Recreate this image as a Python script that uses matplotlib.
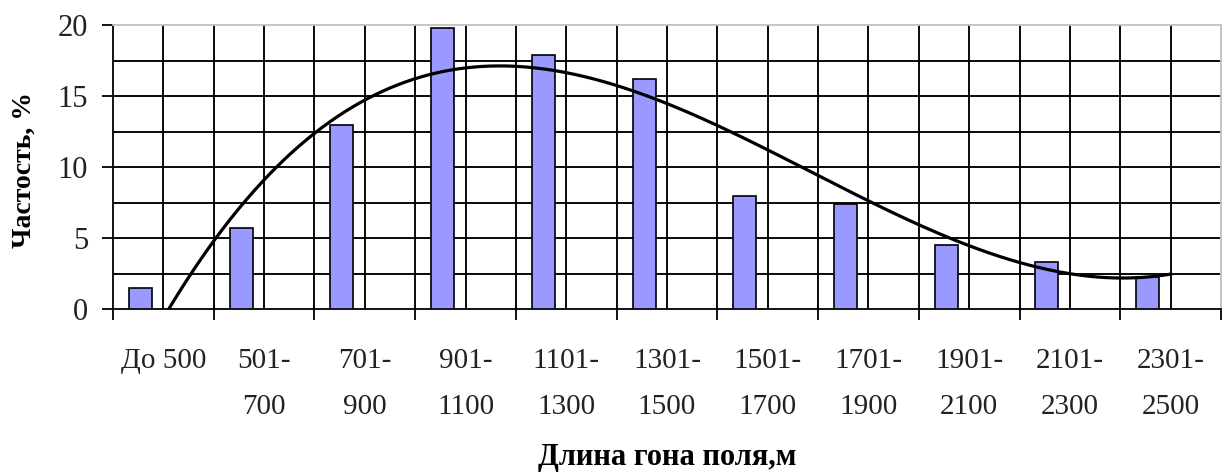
import numpy as np
import matplotlib
matplotlib.use("Agg")
import matplotlib.pyplot as plt

# Length classes of field runs (m) and their relative frequency (%)
categories = ["До 500", "501-\n700", "701-\n900", "901-\n1100", "1101-\n1300",
              "1301-\n1500", "1501-\n1700", "1701-\n1900", "1901-\n2100",
              "2101-\n2300", "2301-\n2500"]
frequency = [1.5, 5.7, 13.0, 19.8, 17.9, 16.2, 8.0, 7.4, 4.5, 3.3, 2.3]
y_ticks = [0, 5, 10, 15, 20]

plt.rcParams['font.family'] = ['Liberation Serif', 'DejaVu Serif']

W, H = 1224, 475
fig = plt.figure(figsize=(W / 100, H / 100), dpi=100)
fig.patch.set_facecolor('white')
left, right, top, bottom = 113, 1221, 25, 309.3
ax = fig.add_axes([left / W, 1 - bottom / H, (right - left) / W, (bottom - top) / H])

n = len(categories)
centers = np.arange(n) + 0.5

# grid: horizontal every 2.5 %, vertical every half class
for yv in np.arange(2.5, 20, 2.5):
    ax.axhline(yv, color='black', lw=1.35, zorder=1)
for xv in np.arange(0.5, n, 0.5):
    ax.axvline(xv, color='black', lw=1.35, zorder=1)

# columns (first slot of a three-slot cluster)
bar_w = 0.228
ax.bar(centers - bar_w, frequency, width=bar_w, color='#9999ff',
       edgecolor='black', linewidth=1.2, zorder=3)

# third-order polynomial trend over class index 1..n
k = np.arange(1, n + 1)
coef = np.polyfit(k, frequency, 3)
kk = np.linspace(1, n, 400)
ax.plot(kk - 0.5, np.polyval(coef, kk), color='black', lw=2.3, zorder=4)

ax.set_xlim(0, n)
ax.set_ylim(0, 20)
ax.set_yticks(y_ticks)
ax.set_yticklabels([str(v) for v in y_ticks])
ax.set_xticks(np.arange(n + 1))
ax.set_xticklabels([])
ax.set_xticks(centers, minor=True)
ax.set_xticklabels(categories, minor=True, fontsize=21, linespacing=2.0,
                   color='#222222')

ax.tick_params(axis='y', which='major', length=8, width=1.3, direction='out',
               pad=10, labelsize=22, labelcolor='#222222')
ax.tick_params(axis='x', which='major', length=8, width=1.3, direction='out')
ax.tick_params(axis='x', which='minor', length=0, pad=28)

for side in ('top', 'right'):
    ax.spines[side].set_color('#c0c0c0')
    ax.spines[side].set_linewidth(1.3)
for side in ('left', 'bottom'):
    ax.spines[side].set_color('black')
    ax.spines[side].set_linewidth(1.3)

fig.text(24 / W, 1 - 170 / H, "Частость, %", rotation=90, ha='center',
         va='center', fontsize=20, fontweight='bold')
fig.text(667 / W, 1 - 465 / H, "Длина гона поля,м", ha='center',
         va='baseline', fontsize=22, fontweight='bold')

fig.savefig("out.png", dpi=100, facecolor='white')
